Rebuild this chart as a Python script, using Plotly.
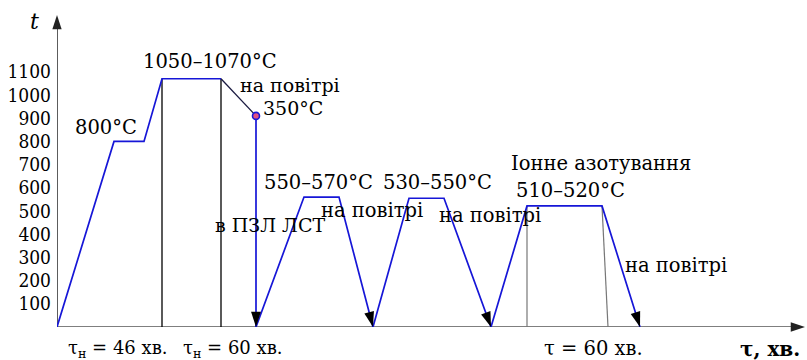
import math
import plotly.graph_objects as go

# Heat-treatment cycle (schematic): time in minutes (not to scale), temperature in °C
heat_t = [0, 57, 87, 105, 164]
heat_T = [0, 800, 800, 1070, 1070]

air_t = [164, 199]
air_T = [1070, 910]

quench_t = [199, 199]
quench_T = [910, 0]

temper1_t = [199, 247, 282, 316]
temper1_T = [0, 560, 560, 0]

temper2_t = [316, 352, 387, 434]
temper2_T = [0, 555, 555, 0]

nitride_t = [434, 470, 545, 583]
nitride_T = [0, 522, 522, 0]

# guide lines marking hold intervals
hold_t = [105, 164]
hold_T = 1070
nitride_guides = [([470, 470], [522, 0]), ([545, 551], [522, 0])]

# axis extents (time axis end, temperature axis end)
t_axis_end = 748
T_axis_end = 1345

y_ticks = [100, 200, 300, 400, 500, 600, 700, 800, 900, 1000, 1100]

# figure geometry
W, H = 807, 360
M_L, M_B = 57, 33
X_RANGE = [0, 750]
Y_RANGE = [0, 1409.5]
px_per_x = (W - M_L) / (X_RANGE[1] - X_RANGE[0])
px_per_y = (H - M_B) / (Y_RANGE[1] - Y_RANGE[0])

BLUE = "rgb(22,22,215)"
NUM_FONT = "DejaVu Serif Condensed, DejaVu Serif, serif"
TXT_FONT = "DejaVu Serif, serif"

fig = go.Figure()


def line(xs, ys, color, width):
    fig.add_trace(go.Scatter(x=xs, y=ys, mode="lines", line=dict(color=color, width=width),
                             hoverinfo="skip", cliponaxis=False))


def arrow_tip(xs, ys, size, color="black"):
    # arrow marker on the last point, turned along the final segment
    dx = (xs[-1] - xs[-2]) * px_per_x
    dy = (ys[-1] - ys[-2]) * px_per_y
    angle = math.degrees(math.atan2(dx, dy))
    fig.add_trace(go.Scatter(x=[xs[-1]], y=[ys[-1]], mode="markers",
                             marker=dict(symbol="arrow", size=size, angle=angle,
                                         color=color, line=dict(width=0)),
                             hoverinfo="skip", cliponaxis=False))


# coordinate axes
line([0, 0], [0, T_axis_end - 20], "#333333", 1.6)
line([0, t_axis_end - 8], [0, 0], "#555555", 1.6)
arrow_tip([0, 0], [0, T_axis_end], 15, "#222222")
arrow_tip([0, t_axis_end], [0, 0], 15, "#222222")

# vertical guides under the austenitising step
for t in hold_t:
    line([t, t], [hold_T, 0], "black", 1.3)
for gx, gy in nitride_guides:
    line(gx, gy, "#777777", 1.2)

# cooling in air from the hardening temperature
line(air_t, air_T, "#1a1a40", 1.3)

for xs, ys in [(heat_t, heat_T), (quench_t, quench_T), (temper1_t, temper1_T),
               (temper2_t, temper2_T), (nitride_t, nitride_T)]:
    line(xs, ys, BLUE, 1.7)

# arrowheads at the end of every cooling segment
for xs, ys in [(quench_t, quench_T), (temper1_t, temper1_T),
               (temper2_t, temper2_T), (nitride_t, nitride_T)]:
    arrow_tip(xs, ys, 16)

# transfer point
fig.add_trace(go.Scatter(x=[quench_t[0]], y=[quench_T[0]], mode="markers",
                         marker=dict(size=7, color="rgb(225,80,130)",
                                     line=dict(color=BLUE, width=1.6)),
                         hoverinfo="skip"))

annotations = []

labels = [
    ("800°C", 48.5, 862, 19.5),
    ("1050–1070°C", 152.5, 1146, 19.5),
    ("на повітрі", 233, 1043, 19),
    ("350°C", 235.5, 942, 19),
    ("в ПЗЛ ЛСТ", 213, 440, 19),
    ("550–570°C", 261.5, 624, 19.5),
    ("на повітрі", 314.5, 502, 19.5),
    ("530–550°C", 380.5, 624, 19.5),
    ("на повітрі", 433, 481, 19.5),
    ("Іонне азотування", 543.5, 704, 19.5),
    ("510–520°C", 513.5, 590, 19.5),
    ("на повітрі", 619, 267, 19.5),
]
for text, x, y, size in labels:
    annotations.append(dict(x=x, y=y, xref="x", yref="y", text=text, showarrow=False,
                            xanchor="center", yanchor="middle",
                            font=dict(family=TXT_FONT, size=size, color="black")))

# captions below the time axis (paper coordinates, outside the plotting area)
captions = [
    ("τ<sub>н</sub> = 46 хв.", 0.0815, -0.066, 18),
    ("τ<sub>н</sub> = 60 хв.", 0.234, -0.066, 18),
    ("τ = 60 хв.", 0.715, -0.066, 19.5),
    ("<b>τ, хв.</b>", 0.951, -0.066, 20),
]
for text, x, y, size in captions:
    annotations.append(dict(x=x, y=y, xref="paper", yref="paper", text=text,
                            showarrow=False, xanchor="center", yanchor="middle",
                            font=dict(family=TXT_FONT, size=size, color="black")))
annotations.append(dict(x=-0.03, y=0.933, xref="paper", yref="paper", text="<i>t</i>",
                        showarrow=False, xanchor="center", yanchor="middle",
                        font=dict(family=TXT_FONT, size=22, color="black")))

fig.update_layout(
    width=W, height=H,
    margin=dict(l=M_L, r=0, t=0, b=M_B),
    paper_bgcolor="white", plot_bgcolor="white",
    showlegend=False,
    annotations=annotations,
    xaxis=dict(range=X_RANGE, visible=False, fixedrange=True),
    yaxis=dict(range=Y_RANGE, tickvals=y_ticks, showgrid=False, zeroline=False,
               showline=False, ticks="", ticklabelstandoff=5,
               tickfont=dict(family=NUM_FONT, size=19, color="black"), fixedrange=True),
)

fig.write_html("out.html")
